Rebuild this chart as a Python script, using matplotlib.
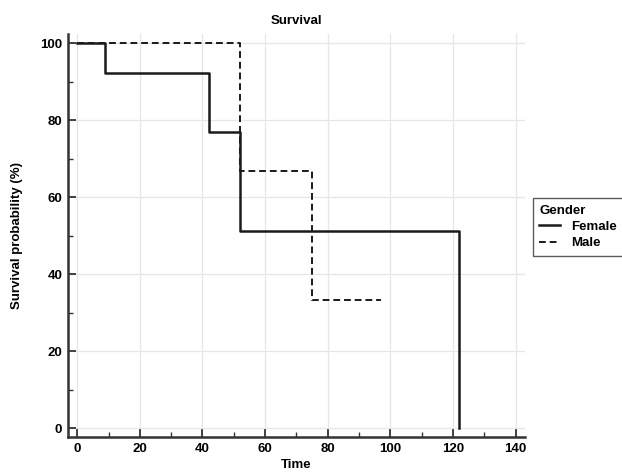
import numpy as np
import matplotlib.pyplot as plt
from matplotlib.ticker import MultipleLocator

plt.rcParams['font.family'] = ['Liberation Sans', 'DejaVu Sans']
plt.rcParams['font.weight'] = 'bold'

# Kaplan-Meier steps
female_t = [0, 9, 42, 52, 122, 122]
female_s = [100, 92.3, 76.9, 51.3, 0, 0]
male_t = [0, 52, 75, 97]
male_s = [100, 66.7, 33.3, 33.3]

fig = plt.figure(figsize=(6.22, 4.75), dpi=100)
ax = fig.add_axes([0.109, 0.08, 0.735, 0.848])

ax.step(female_t, female_s, where='post', color='#1a1a1a', lw=1.8, label='Female')
ax.step(male_t, male_s, where='post', color='#1a1a1a', lw=1.4, ls=(0, (3.5, 2)), label='Male')

ax.set_xlim(-3, 143)
ax.set_ylim(-2.3, 102.3)
ax.xaxis.set_major_locator(MultipleLocator(20))
ax.xaxis.set_minor_locator(MultipleLocator(10))
ax.yaxis.set_major_locator(MultipleLocator(20))
ax.yaxis.set_minor_locator(MultipleLocator(10))
ax.grid(True, which='major', color='#e6e6e6', lw=0.9)
ax.set_axisbelow(True)

for s in ['top', 'right']:
    ax.spines[s].set_visible(False)
for s in ['left', 'bottom']:
    ax.spines[s].set_linewidth(1.8)
    ax.spines[s].set_color('#333333')

ax.tick_params(which='major', direction='in', length=6, width=1.3, labelsize=9.5,
               colors='#333333', labelcolor='black', pad=4)
ax.tick_params(which='minor', direction='in', length=3.5, width=1.0, colors='#333333')

ax.set_title('Survival', fontsize=9.5, fontweight='bold', pad=7)
ax.set_xlabel('Time', fontsize=9.5, fontweight='bold', labelpad=3)
ax.set_ylabel('Survival probability (%)', fontsize=9.5, fontweight='bold', labelpad=12)

leg = ax.legend(title='Gender', loc='upper left', bbox_to_anchor=(1.017, 0.593),
                fontsize=9.5, title_fontsize=9.5, frameon=True, fancybox=False,
                handlelength=1.6, handletextpad=0.8, borderpad=0.5, labelspacing=0.3,
                borderaxespad=0)
leg.get_frame().set_edgecolor('#333333')
leg.get_frame().set_linewidth(1.0)
leg._legend_box.align = 'left'
leg.get_title().set_fontweight('bold')

fig.savefig('out.png', dpi=100)
